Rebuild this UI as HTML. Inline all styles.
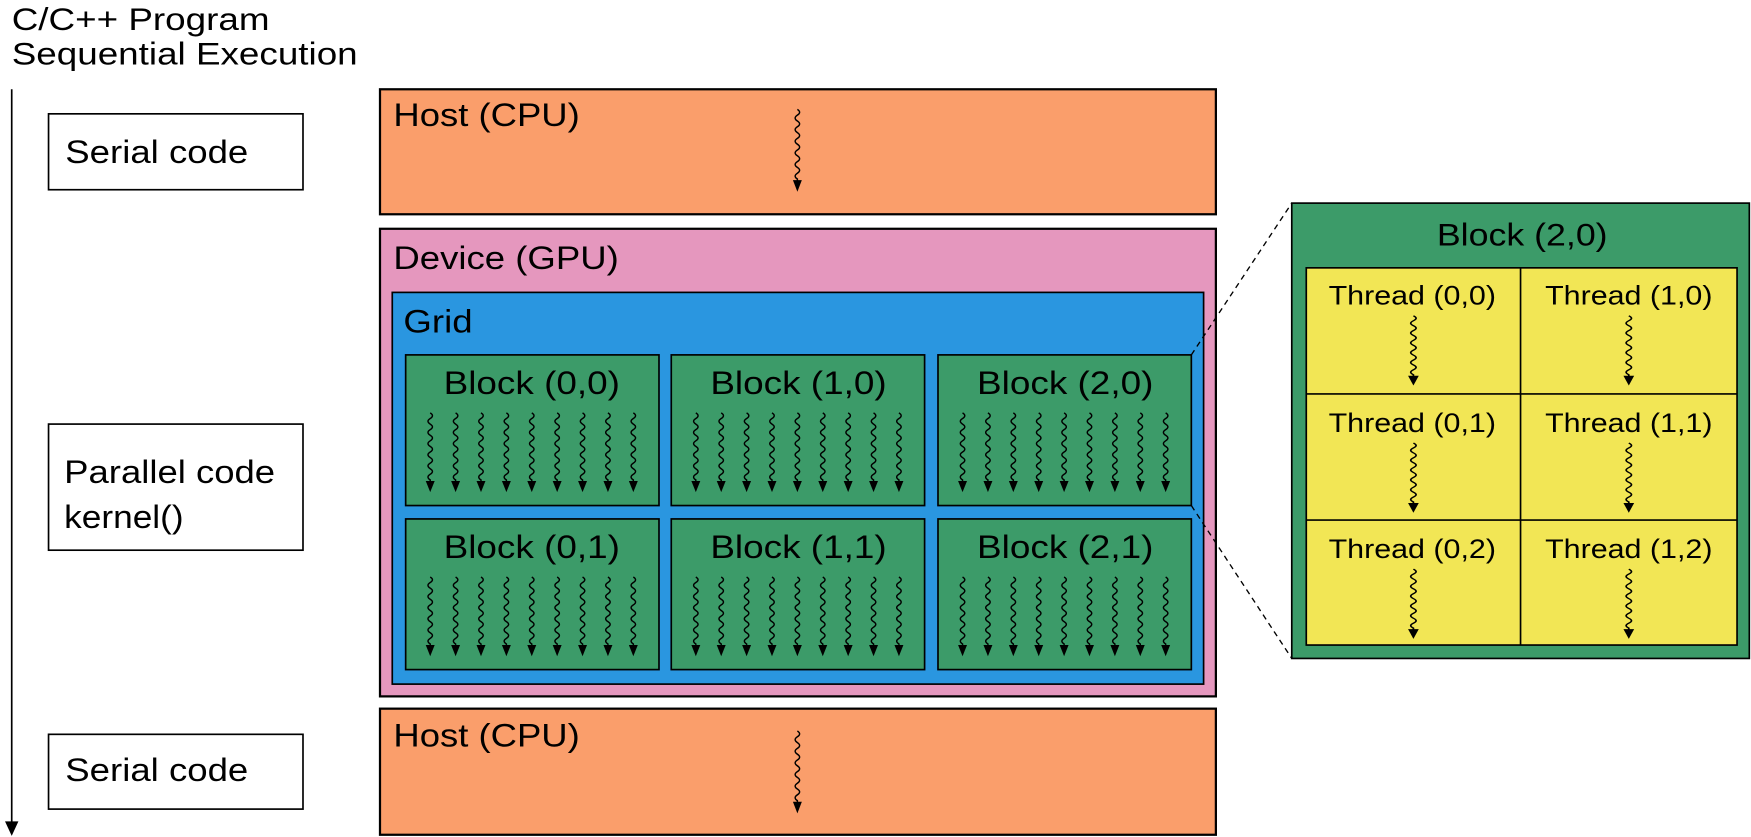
<!DOCTYPE html>
<html><head><meta charset="utf-8"><style>
html,body{margin:0;padding:0;background:#fff;}
svg{display:block;}
text{font-family:"Liberation Sans",sans-serif;fill:#000;}
</style></head><body>
<svg width="1751" height="837" viewBox="0 0 1568 750" xmlns="http://www.w3.org/2000/svg">
<defs>
<g id="w">
<path d="M0,0 q4,2.5 0,5 q-4,2.5 0,5 q4,2.5 0,5 q-4,2.5 0,5 q4,2.5 0,5 q-4,2.5 0,5 q4,2.5 0,5 q-4,2.5 0,5 q4,2.5 0,5 q-4,2.5 0,5 q4,2.5 0,5 q-4,2.5 0,5 L0,63" fill="none" stroke="#000" stroke-width="1.3"/>
<polygon points="-4,61 4,61 0,71" fill="#000"/>
</g>
<g id="row">
<use href="#w" x="0"/><use href="#w" x="22.75"/><use href="#w" x="45.5"/><use href="#w" x="68.25"/><use href="#w" x="91"/><use href="#w" x="113.75"/><use href="#w" x="136.5"/><use href="#w" x="159.25"/><use href="#w" x="182"/>
</g>
</defs>

<g lengthAdjust="spacingAndGlyphs">
<text x="10" y="27" font-size="28" textLength="231" lengthAdjust="spacingAndGlyphs">C/C++ Program</text>
<text x="10" y="58" font-size="28" textLength="310" lengthAdjust="spacingAndGlyphs">Sequential Execution</text>
</g>
<line x1="10" y1="80" x2="10" y2="738" stroke="#000" stroke-width="1.5"/>
<polygon points="4,736 16,736 10,749" fill="#000"/>

<rect x="43" y="102" width="228" height="68" fill="#fff" stroke="#000" stroke-width="1.5"/>
<text x="58" y="146" font-size="29" textLength="164" lengthAdjust="spacingAndGlyphs">Serial code</text>
<rect x="43" y="380" width="228" height="113" fill="#fff" stroke="#000" stroke-width="1.5"/>
<text x="57" y="433" font-size="29" textLength="189" lengthAdjust="spacingAndGlyphs">Parallel code</text>
<text x="57" y="473" font-size="29" textLength="107" lengthAdjust="spacingAndGlyphs">kernel()</text>
<rect x="43" y="658" width="228" height="67" fill="#fff" stroke="#000" stroke-width="1.5"/>
<text x="58" y="700" font-size="29" textLength="164" lengthAdjust="spacingAndGlyphs">Serial code</text>

<rect x="340" y="80" width="749" height="112" fill="#FA9E6B" stroke="#000" stroke-width="2"/>
<text x="352" y="113" font-size="29" textLength="167" lengthAdjust="spacingAndGlyphs">Host (CPU)</text>
<use href="#w" transform="translate(714,98) scale(1,1.04)"/>

<rect x="340" y="205" width="749" height="419" fill="#E597BE" stroke="#000" stroke-width="2"/>
<text x="352" y="241" font-size="29" textLength="202" lengthAdjust="spacingAndGlyphs">Device (GPU)</text>
<rect x="351" y="262" width="727" height="351" fill="#2A96E0" stroke="#000" stroke-width="1.5"/>
<text x="361" y="298" font-size="29" textLength="62" lengthAdjust="spacingAndGlyphs">Grid</text>

<g stroke="#000" stroke-width="1.5" fill="#3C9B69">
<rect x="363" y="318" width="227" height="135"/>
<rect x="601" y="318" width="227" height="135"/>
<rect x="840" y="318" width="227" height="135"/>
<rect x="363" y="465" width="227" height="135"/>
<rect x="601" y="465" width="227" height="135"/>
<rect x="840" y="465" width="227" height="135"/>
</g>
<g font-size="29">
<text x="397" y="353" textLength="158" lengthAdjust="spacingAndGlyphs">Block (0,0)</text>
<text x="636" y="353" textLength="158" lengthAdjust="spacingAndGlyphs">Block (1,0)</text>
<text x="875" y="353" textLength="158" lengthAdjust="spacingAndGlyphs">Block (2,0)</text>
<text x="397" y="500" textLength="158" lengthAdjust="spacingAndGlyphs">Block (0,1)</text>
<text x="636" y="500" textLength="158" lengthAdjust="spacingAndGlyphs">Block (1,1)</text>
<text x="875" y="500" textLength="158" lengthAdjust="spacingAndGlyphs">Block (2,1)</text>
</g>
<use href="#row" x="385" y="370"/>
<use href="#row" x="623" y="370"/>
<use href="#row" x="862" y="370"/>
<use href="#row" x="385" y="517"/>
<use href="#row" x="623" y="517"/>
<use href="#row" x="862" y="517"/>

<rect x="340" y="635" width="749" height="113" fill="#FA9E6B" stroke="#000" stroke-width="2"/>
<text x="352" y="669" font-size="29" textLength="167" lengthAdjust="spacingAndGlyphs">Host (CPU)</text>
<use href="#w" transform="translate(714,655) scale(1,1.04)"/>

<line x1="1067" y1="318" x2="1157" y2="182" stroke="#000" stroke-width="1.2" stroke-dasharray="5,4"/>
<line x1="1067" y1="453" x2="1157" y2="590" stroke="#000" stroke-width="1.2" stroke-dasharray="5,4"/>

<rect x="1157" y="182" width="410" height="408" fill="#3C9B69" stroke="#000" stroke-width="1.5"/>
<text x="1287" y="220" font-size="28" textLength="153" lengthAdjust="spacingAndGlyphs">Block (2,0)</text>
<rect x="1170" y="240" width="386" height="338" fill="#F2E655" stroke="#000" stroke-width="1.5"/>
<g stroke="#000" stroke-width="1.5">
<line x1="1362" y1="240" x2="1362" y2="578"/>
<line x1="1170" y1="353" x2="1556" y2="353"/>
<line x1="1170" y1="466" x2="1556" y2="466"/>
</g>
<g font-size="24">
<text x="1190" y="273" textLength="150" lengthAdjust="spacingAndGlyphs">Thread (0,0)</text>
<text x="1384" y="273" textLength="150" lengthAdjust="spacingAndGlyphs">Thread (1,0)</text>
<text x="1190" y="387" textLength="150" lengthAdjust="spacingAndGlyphs">Thread (0,1)</text>
<text x="1384" y="387" textLength="150" lengthAdjust="spacingAndGlyphs">Thread (1,1)</text>
<text x="1190" y="500" textLength="150" lengthAdjust="spacingAndGlyphs">Thread (0,2)</text>
<text x="1384" y="500" textLength="150" lengthAdjust="spacingAndGlyphs">Thread (1,2)</text>
</g>
<use href="#w" transform="translate(1266,283) scale(1.2,0.88)"/>
<use href="#w" transform="translate(1459,283) scale(1.2,0.88)"/>
<use href="#w" transform="translate(1266,397) scale(1.2,0.88)"/>
<use href="#w" transform="translate(1459,397) scale(1.2,0.88)"/>
<use href="#w" transform="translate(1266,510) scale(1.2,0.88)"/>
<use href="#w" transform="translate(1459,510) scale(1.2,0.88)"/>
</svg>
</body></html>
